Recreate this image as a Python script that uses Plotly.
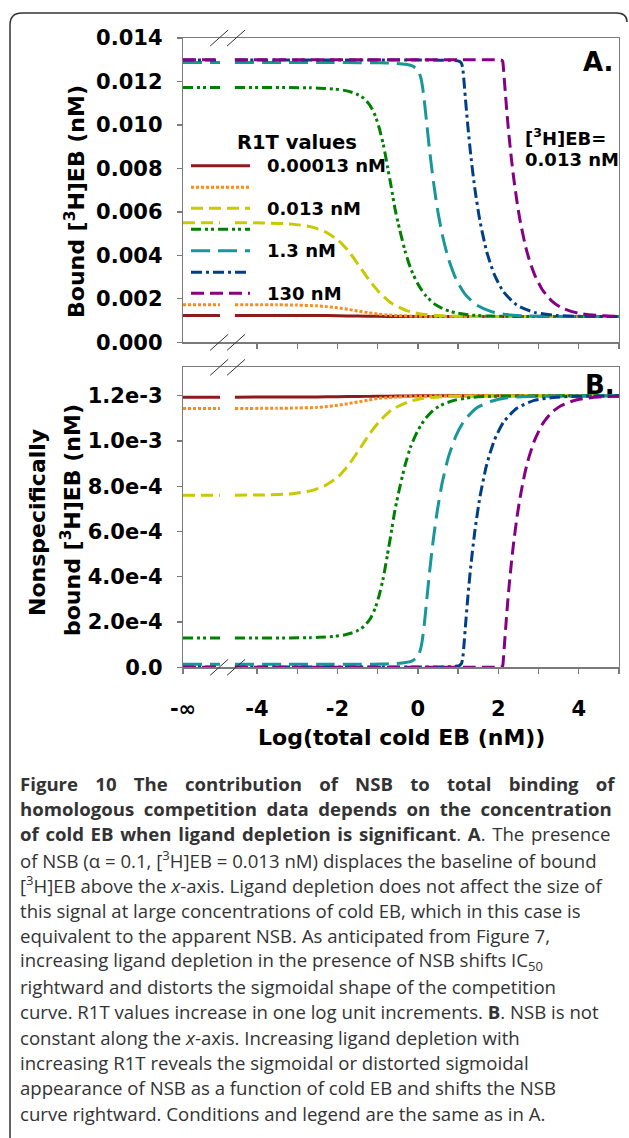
import plotly.graph_objects as go

W, H = 629, 1138

# ---------------- data ----------------
R1T_LABELS = ["0.00013 nM", "0.0013 nM", "0.013 nM", "0.13 nM", "1.3 nM", "13 nM", "130 nM"]
LEGEND_TEXT = ["0.00013 nM", "", "0.013 nM", "", "1.3 nM", "", "130 nM"]

X_R1 = [-4.55, -3.0, -2.5, -2.0, -1.5, -1.0, -0.5, 0.0, 1.0, 2.0, 3.0, 4.0, 5.0]
BOUND_R1 = [0.001238, 0.001236, 0.001232, 0.001223, 0.001208, 0.001194, 0.001186, 0.001183,
            0.001182, 0.001182, 0.001182, 0.001182, 0.001182]
NSB_R1 = [0.001194, 0.001195, 0.001195, 0.001196, 0.001197, 0.001198, 0.001199, 0.001200,
          0.001200, 0.001200, 0.001200, 0.001200, 0.001200]

X_R2 = [-4.55, -3.5, -3.0, -2.5, -2.25, -2.0, -1.75, -1.5, -1.25, -1.0, -0.75, -0.5, 0.0,
        0.5, 1.0, 2.0, 3.0, 4.0, 5.0]
BOUND_R2 = [0.001731, 0.001725, 0.001712, 0.001676, 0.001641, 0.001588, 0.001519, 0.001441,
            0.001365, 0.001302, 0.001257, 0.001227, 0.001197, 0.001187, 0.001183, 0.001182,
            0.001182, 0.001182, 0.001182]
NSB_R2 = [0.001144, 0.001145, 0.001146, 0.001149, 0.001153, 0.001158, 0.001165, 0.001173,
          0.001180, 0.001188, 0.001192, 0.001195, 0.001198, 0.001199, 0.001200, 0.001200,
          0.001200, 0.001200, 0.001200]

X_R3 = [-4.55, -3.8, -3.12, -2.65, -2.30, -1.98, -1.71, -1.46, -1.20, -0.96, -0.66, -0.26,
        0.04, 0.52, 1.04, 2.04, 3.0, 4.0, 5.0]
BOUND_R3 = [0.005503, 0.005487, 0.005437, 0.005312, 0.005081, 0.004690, 0.004165, 0.003517,
            0.002829, 0.002301, 0.001803, 0.001448, 0.001318, 0.001228, 0.001196, 0.001183,
            0.001182, 0.001182, 0.001182]
NSB_R3 = [0.000761, 0.000762, 0.000767, 0.000781, 0.000804, 0.000843, 0.000897, 0.000962,
          0.001032, 0.001086, 0.001137, 0.001172, 0.001186, 0.001195, 0.001198, 0.001200,
          0.001200, 0.001200, 0.001200]

X_R4 = [-4.55, -2.68, -2.19, -1.83, -1.54, -1.34, -1.18, -1.06, -0.96, -0.86, -0.76, -0.67,
        -0.57, -0.45, -0.32, -0.18, 0.00, 0.19, 0.40, 0.65, 0.95, 1.34, 1.82, 2.5, 3.5, 5.0]
BOUND_R4 = [0.011727, 0.011708, 0.011669, 0.011591, 0.011438, 0.011217, 0.010869, 0.010420,
            0.009847, 0.009109, 0.008124, 0.007223, 0.006149, 0.005159, 0.004210, 0.003395,
            0.002682, 0.002158, 0.001781, 0.001520, 0.001354, 0.001251, 0.001205, 0.001187,
            0.001183, 0.001182]
NSB_R4 = [0.000129, 0.000131, 0.000135, 0.000143, 0.000158, 0.000181, 0.000216, 0.000262,
          0.000320, 0.000395, 0.000495, 0.000587, 0.000695, 0.000796, 0.000892, 0.000975,
          0.001047, 0.001100, 0.001139, 0.001165, 0.001182, 0.001193, 0.001198, 0.001199,
          0.001200, 0.001200]

X_R5 = [-4.55, -2.16, -1.45, -1.09, -0.79, -0.53, -0.31, -0.155, -0.033, 0.031, 0.077, 0.111,
        0.155, 0.211, 0.283, 0.375, 0.482, 0.605, 0.755, 0.954, 1.161, 1.459, 1.828, 2.221,
        2.741, 3.5, 5.0]
BOUND_R5 = [0.012870, 0.012869, 0.012866, 0.012861, 0.012852, 0.012832, 0.012793, 0.012726,
            0.012585, 0.012402, 0.012138, 0.011805, 0.011195, 0.010223, 0.008963, 0.007545,
            0.006179, 0.004962, 0.003870, 0.002886, 0.002240, 0.001715, 0.001410, 0.001274,
            0.001210, 0.001187, 0.001182]
NSB_R5 = [0.0000132, 0.0000133, 0.0000136, 0.0000140, 0.0000150, 0.0000171, 0.0000209,
          0.0000277, 0.0000421, 0.0000607, 0.0000875, 0.0001213, 0.0001832, 0.0002819,
          0.0004097, 0.0005536, 0.000692, 0.000816, 0.000927, 0.001026, 0.001092, 0.001146,
          0.001176, 0.001191, 0.001197, 0.001199, 0.001200]

X_R6 = [-4.55, -1.06, -0.04, 0.557, 0.897, 1.031, 1.083, 1.115, 1.144, 1.179, 1.239, 1.315,
        1.418, 1.544, 1.712, 1.898, 2.127, 2.459, 2.894, 3.441, 4.042, 5.0]
BOUND_R6 = [0.012987, 0.012987, 0.012986, 0.012982, 0.012967, 0.012927, 0.012839, 0.012601,
            0.012067, 0.011280, 0.010004, 0.008599, 0.007043, 0.005570, 0.004164, 0.003126,
            0.002328, 0.001715, 0.001378, 0.001237, 0.001196, 0.001183]
NSB_R6 = [0.0000013, 0.0000013, 0.0000014, 0.0000018, 0.0000033, 0.0000074, 0.0000163,
          0.0000405, 0.0000947, 0.0001746, 0.0003041, 0.0004467, 0.0006046, 0.000754,
          0.000897, 0.001002, 0.001083, 0.001145, 0.001180, 0.001194, 0.001198, 0.001200]

X_R7 = [-4.55, -0.01, 1.387, 1.897, 2.061, 2.105, 2.112, 2.121, 2.131, 2.149, 2.182, 2.226,
        2.267, 2.327, 2.380, 2.470, 2.544, 2.663, 2.756, 2.898, 3.090, 3.324, 3.535, 3.828,
        4.047, 4.345, 4.645, 5.0]
BOUND_R7 = [0.013000, 0.013000, 0.012999, 0.012997, 0.012989, 0.012949, 0.012899, 0.012754,
            0.012520, 0.012077, 0.011289, 0.010299, 0.009486, 0.008411, 0.007583, 0.006389,
            0.005571, 0.004521, 0.003877, 0.003127, 0.002431, 0.001910, 0.001630, 0.001410,
            0.001320, 0.001251, 0.001217, 0.001197]
NSB_R7 = [0.0000001, 0.0000001, 0.0000001, 0.0000002, 0.0000011, 0.0000052, 0.0000102,
          0.0000250, 0.0000488, 0.0000937, 0.0001736, 0.0002742, 0.0003563, 0.0004658,
          0.0005501, 0.0006709, 0.0007541, 0.0008605, 0.0009257, 0.001002, 0.001073, 0.001126,
          0.001154, 0.001176, 0.001186, 0.0011925, 0.001196, 0.001198]

X_MAJOR_TICKS = [-4, -2, 0, 2, 4]
X_MAJOR_TEXT = ["-4", "-2", "0", "2", "4"]
X_MINOR_TICKS = [-3, -1, 1, 3, 5]
NEG_INF_TEXT = "-∞"
Y_A_TICKS = [0, 0.002, 0.004, 0.006, 0.008, 0.010, 0.012, 0.014]
Y_A_TICK_TEXT = ["0.000", "0.002", "0.004", "0.006", "0.008", "0.010", "0.012", "0.014"]
Y_B_TICKS = [0, 0.0002, 0.0004, 0.0006, 0.0008, 0.0010, 0.0012]
Y_B_TICK_TEXT = ["0.0", "2.0e-4", "4.0e-4", "6.0e-4", "8.0e-4", "1.0e-3", "1.2e-3"]

EN, SPE, FPE, HAIR = "\u2002", "\u2006", "\u2005", "\u200a"
CAPTION_LINES = [
    "<b>" + (" " + EN + SPE).join("Figure 10 The contribution of NSB to total binding of".split()) + "</b>",
    "<b>" + (" " + FPE).join("homologous competition data depends on the concentration".split()) + "</b>",
    (" " + HAIR).join(["<b>of", "cold", "EB", "when", "ligand", "depletion", "is",
                       "significant</b>.", "<b>A</b>.", "The", "presence"]),
    "of NSB (α = 0.1, [<sup>3</sup>H]EB = 0.013 nM) displaces the baseline of bound",
    "[<sup>3</sup>H]EB above the <i>x</i>-axis. Ligand depletion does not affect the size of",
    "this signal at large concentrations of cold EB, which in this case is",
    "equivalent to the apparent NSB. As anticipated from Figure 7,",
    "increasing ligand depletion in the presence of NSB shifts IC<sub>50</sub>",
    "rightward and distorts the sigmoidal shape of the competition",
    "curve. R1T values increase in one log unit increments. <b>B</b>. NSB is not",
    "constant along the <i>x</i>-axis. Increasing ligand depletion with",
    "increasing R1T reveals the sigmoidal or distorted sigmoidal",
    "appearance of NSB as a function of cold EB and shifts the NSB",
    "curve rightward. Conditions and legend are the same as in A.",
]

SERIES = [
    (X_R1, BOUND_R1, NSB_R1), (X_R2, BOUND_R2, NSB_R2), (X_R3, BOUND_R3, NSB_R3),
    (X_R4, BOUND_R4, NSB_R4), (X_R5, BOUND_R5, NSB_R5), (X_R6, BOUND_R6, NSB_R6),
    (X_R7, BOUND_R7, NSB_R7),
]

# ---------------- styles ----------------
COLORS = ["#8e1b1b", "#ff8a1a", "#c9c900", "#008000", "#17979a", "#003f85", "#850085"]
DASHES = ["solid", "3px,2px", "12px,6px", "10px,4px,3px,3px,3px,4px", "19px,8px",
          "11px,4px,3px,4px", "13px,6px"]
LW = 3

X_MIN, X_MAX = -5.84, 5.0          # axis range; X_MIN carries the "-inf" label
STUB_END = -4.92                    # end of the "-inf" stub before the axis break
BREAK_CENTERS = [-4.94, -4.52]      # the two slashes of the axis break

FONT = "DejaVu Sans"
AXIS_GREY = "#7a7a7a"


def px(xp):
    return xp / W


def py(yp):
    return 1 - yp / H


DOM_X = [px(183), px(619)]
DOM_YA = [py(342.3), py(38)]
DOM_YB = [py(667.3), py(367.3)]

fig = go.Figure()

for i, (xs, bound, nsb) in enumerate(SERIES):
    for ys, xa, ya in ((bound, "x", "y"), (nsb, "x2", "y2")):
        fig.add_trace(go.Scatter(
            x=[X_MIN, STUB_END, None] + list(xs),
            y=[ys[0], ys[0], None] + list(ys),
            mode="lines", xaxis=xa, yaxis=ya,
            name=R1T_LABELS[i], showlegend=False,
            line=dict(color=COLORS[i], width=LW, dash=DASHES[i], shape="spline", smoothing=0.6),
            connectgaps=False, cliponaxis=False,
        ))

axis_common = dict(
    showgrid=False, zeroline=False, showline=True, linecolor=AXIS_GREY, linewidth=1.3,
    mirror=True, ticks="outside", ticklen=5, tickwidth=1.3, tickcolor=AXIS_GREY,
    automargin=False,
    tickfont=dict(family=FONT, size=21, color="black", weight="bold"),
)
minor_x = dict(tickvals=X_MINOR_TICKS, ticks="outside", ticklen=5, tickwidth=1.3,
               tickcolor=AXIS_GREY, showgrid=False)

fig.update_layout(
    width=W, height=H, margin=dict(l=0, r=0, t=0, b=0, pad=0, autoexpand=False),
    paper_bgcolor="white", plot_bgcolor="white", showlegend=False,
    xaxis=dict(domain=DOM_X, anchor="y", range=[X_MIN, X_MAX], tickvals=X_MAJOR_TICKS,
               showticklabels=False, minor=minor_x, **axis_common),
    yaxis=dict(domain=DOM_YA, anchor="x", range=[0, 0.014], tickvals=Y_A_TICKS,
               ticktext=Y_A_TICK_TEXT, ticklabelstandoff=10, **axis_common),
    xaxis2=dict(domain=DOM_X, anchor="y2", range=[X_MIN, X_MAX],
                tickvals=[X_MIN] + X_MAJOR_TICKS, ticktext=[NEG_INF_TEXT] + X_MAJOR_TEXT,
                ticklabelstandoff=17, minor=minor_x, **axis_common),
    yaxis2=dict(domain=DOM_YB, anchor="x2", range=[0, 0.001326], tickvals=Y_B_TICKS,
                ticktext=Y_B_TICK_TEXT, ticklabelstandoff=10, **axis_common),
)

shapes = []
# axis-break slashes
for yref in ("y domain", "y2 domain"):
    for yanc in (0, 1):
        for xc in BREAK_CENTERS:
            shapes.append(dict(type="line", xref="x", yref=yref, xsizemode="pixel",
                               ysizemode="pixel", xanchor=xc, yanchor=yanc,
                               x0=-9, x1=9, y0=-8, y1=8,
                               line=dict(color="#333333", width=1)))
# legend samples
LEG_Y = [165.7, 187.3, 208.3, 229.3, 250.7, 272.3, 293.3]
for i, yy in enumerate(LEG_Y):
    shapes.append(dict(type="line", xref="paper", yref="paper", x0=px(191), x1=px(250),
                       y0=py(yy), y1=py(yy),
                       line=dict(color=COLORS[i], width=LW, dash=DASHES[i])))
# rounded figure frame
shapes.append(dict(
    type="path", xref="paper", yref="paper",
    path=(f"M {px(10)},{py(1140)} L {px(10)},{py(25)} Q {px(10)},{py(13)} {px(22)},{py(13)} "
          f"L {px(616)},{py(13)} Q {px(627)},{py(13)} {px(627)},{py(22)}"),
    line=dict(color="#333333", width=1.5)))

ann = []


def add_text(text, x, y, size, xanchor="center", angle=0, bold=True, color="black",
             family=FONT):
    ann.append(dict(text=text, xref="paper", yref="paper", x=px(x), y=py(y),
                    xanchor=xanchor, yanchor="middle", showarrow=False, textangle=angle,
                    font=dict(family=family, size=size, color=color,
                              weight="bold" if bold else "normal")))


add_text("R1T values", 235, 142, 19.5, xanchor="left")
for i, yy in enumerate(LEG_Y):
    if LEGEND_TEXT[i]:
        add_text(LEGEND_TEXT[i], 265, yy, 18, xanchor="left")
add_text("[<sup>3</sup>H]EB=", 523, 137, 18, xanchor="left")
add_text("0.013 nM", 523, 160, 18, xanchor="left")
add_text("A.", 598, 62, 26)
add_text("B.", 600, 385, 26)
add_text("Bound [<sup>3</sup>H]EB (nM)", 75, 202, 22, angle=-90)
add_text("Nonspecifically", 37, 523, 22, angle=-90)
add_text("bound [<sup>3</sup>H]EB (nM)", 71, 520, 22, angle=-90)
add_text("Log(total cold EB (nM))", 401, 737, 22)

for k, line in enumerate(CAPTION_LINES):
    add_text(line, 18, 783 + 25.4 * k, 18.6, xanchor="left", bold=False, color="#333333",
             family="Open Sans")

fig.update_layout(shapes=shapes, annotations=ann)
fig.write_html(
    "out.html",
    config={"displayModeBar": False, "staticPlot": True},
    post_script="document.body.style.margin='0px';document.body.style.overflow='hidden';",
)
